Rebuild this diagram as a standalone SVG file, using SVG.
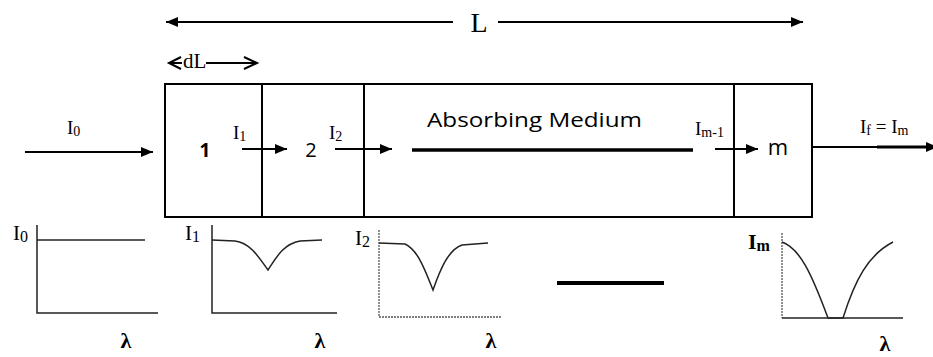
<svg xmlns="http://www.w3.org/2000/svg" width="933" height="357" viewBox="0 0 933 357">
<defs>
<style>
.ln{stroke:#000;stroke-width:2;fill:none}
.cell{stroke:#000;stroke-width:2;fill:#fff}
.ser{font-family:"Liberation Serif","Times New Roman",serif;fill:#000}
.sans{font-family:"Open Sans","Liberation Sans",Arial,sans-serif;fill:#000}
.ax{stroke:#222;stroke-width:1.5;fill:none}
.axd{stroke:#555;stroke-width:1.3;fill:none;stroke-dasharray:2 1}
.crv{stroke:#222;stroke-width:1.5;fill:none}
.lam{font-family:"Liberation Serif","Times New Roman",serif;font-weight:bold;font-size:22px;text-anchor:middle}
</style>
<marker id="ah" viewBox="0 0 12 10" refX="12" refY="5" markerWidth="12" markerHeight="10" markerUnits="userSpaceOnUse" orient="auto-start-reverse">
<path d="M0,0 L12,5 L0,10 z" fill="#000"/>
</marker>
</defs>
<rect width="933" height="357" fill="#fff"/>

<g id="cell-1"><rect class="cell" x="165" y="84" width="97" height="133"/><text class="sans" x="205" y="157" font-size="19" font-weight="bold" text-anchor="middle">1</text></g>
<g id="cell-2"><rect class="cell" x="262" y="84" width="102" height="133"/><text class="sans" x="311" y="157" font-size="20" text-anchor="middle">2</text></g>
<g id="medium"><rect class="cell" x="364" y="84" width="370" height="133"/><text class="sans" x="427" y="127" font-size="20" textLength="215" lengthAdjust="spacingAndGlyphs">Absorbing Medium</text></g>
<g id="cell-m"><rect class="cell" x="734" y="84" width="78" height="133"/><text class="sans" x="778" y="155" font-size="22" text-anchor="middle">m</text></g>

<g id="connectors">
<line class="ln" x1="166" y1="22" x2="453" y2="22" marker-start="url(#ah)"/>
<line class="ln" x1="498" y1="22" x2="803" y2="22" marker-end="url(#ah)"/>
<path class="ln" d="M181,57 L169,63 L181,69 M169,63 L182,63"/>
<line class="ln" x1="206" y1="63" x2="256" y2="63"/>
<path class="ln" d="M244,57 L257,63 L244,69"/>
<line class="ln" x1="25" y1="152" x2="153" y2="152" marker-end="url(#ah)"/>
<line class="ln" x1="242" y1="149" x2="287" y2="149" marker-end="url(#ah)"/>
<line class="ln" x1="335" y1="149" x2="392" y2="149" marker-end="url(#ah)"/>
<line x1="412" y1="150" x2="693" y2="150" stroke="#000" stroke-width="3.5"/>
<line class="ln" x1="715" y1="149" x2="758" y2="149" marker-end="url(#ah)"/>
<line class="ln" x1="812" y1="147" x2="938" y2="147" marker-end="url(#ah)"/>
<line x1="877" y1="147" x2="933" y2="147" stroke="#000" stroke-width="3"/>
</g>

<g id="labels">
<text class="ser" x="479" y="32" font-size="28" text-anchor="middle">L</text>
<text class="ser" x="183" y="68" font-size="21">dL</text>
<text class="ser" x="67" y="134" font-size="19">I<tspan font-size="14" dy="2">0</tspan></text>
<text class="ser" x="233" y="139" font-size="19">I<tspan font-size="14" dy="2">1</tspan></text>
<text class="ser" x="329" y="139" font-size="19">I<tspan font-size="14" dy="2">2</tspan></text>
<text class="ser" x="695" y="135" font-size="19">I<tspan font-size="14" dy="2">m-1</tspan></text>
<text class="ser" x="860" y="133" font-size="19">I<tspan font-size="14" dy="2">f</tspan><tspan dy="-2"> = I</tspan><tspan font-size="14" dy="2">m</tspan></text>
</g>

<g id="plot-0">
<path class="ax" d="M37,225 L37,313 L158,313"/>
<line class="crv" x1="37" y1="240" x2="145" y2="240"/>
<text class="ser" x="13" y="240" font-size="21">I<tspan font-size="16" dy="2">0</tspan></text>
<text class="lam" x="126" y="348">λ</text>
</g>
<g id="plot-1">
<path class="ax" d="M212,225 L212,313 L337,313"/>
<path class="crv" d="M212,240 L235,241 C250,243 258,256 268,270 C276,258 283,244 300,241 L322,240"/>
<text class="ser" x="185" y="240" font-size="21">I<tspan font-size="16" dy="2">1</tspan></text>
<text class="lam" x="320" y="348">λ</text>
</g>
<g id="plot-2">
<path class="axd" d="M379,230 L379,317 L502,317"/>
<path class="crv" d="M379,243 L405,244 C418,250 425,270 433,290 C440,270 448,250 462,245 L488,243"/>
<text class="ser" x="355" y="245" font-size="21">I<tspan font-size="16" dy="2">2</tspan></text>
<text class="lam" x="491" y="348">λ</text>
</g>
<line id="ellipsis-line" x1="557" y1="283" x2="664" y2="283" stroke="#000" stroke-width="4"/>
<g id="plot-m">
<path class="axd" d="M782,233 L782,318"/>
<line class="ax" x1="782" y1="318" x2="903" y2="318"/>
<path class="crv" d="M782,242 C800,248 812,275 828,318 L843,318 C855,280 868,255 893,242"/>
<text class="ser" x="748" y="249" font-size="22" font-weight="bold">I<tspan font-size="16" dy="2">m</tspan></text>
<text class="lam" x="885" y="351">λ</text>
</g>
</svg>
